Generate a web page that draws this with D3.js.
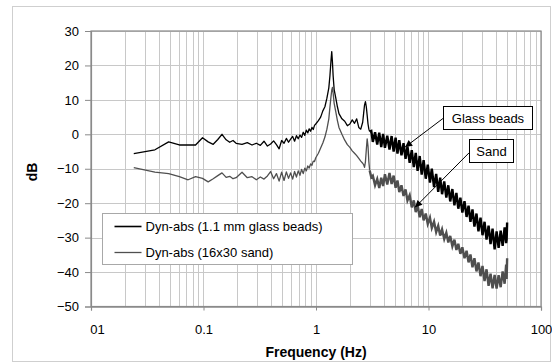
<!DOCTYPE html>
<html><head><meta charset="utf-8">
<script src="https://cdn.jsdelivr.net/npm/d3@7"></script>
<style>
body{margin:0;background:#fff;}
text{font-family:"Liberation Sans",Arial,Helvetica,sans-serif;}
</style></head>
<body><svg id="c" width="552" height="364"></svg>
<script>
// ---- data ----
const freq = [
 0.024,0.037,0.049,0.061,0.073,0.085,0.098,0.110,0.122,0.134,0.146,0.159,0.171,0.183,0.195,
 0.22,0.245,0.27,0.295,0.32,0.345,0.37,0.395,0.42,0.445,0.47,0.495,0.52,0.545,0.57,0.595,
 0.62,0.645,0.67,0.695,0.72,0.745,0.77,0.795,0.82,0.845,0.87,0.895,0.92,0.945,0.97,0.995,
 1.05,1.1,1.15,1.2,1.25,1.3,1.33,1.36,1.38,1.40,1.42,1.45,1.5,1.55,1.6,1.7,1.8,1.9,2.0,
 2.1,2.2,2.3,2.4,2.5,2.6,2.65,2.7,2.75,2.8,2.85,2.9,2.95,3.0,
 3.1,3.2,3.35,3.5,3.65,3.8,3.95,4.1,4.3,4.5,
 4.7,4.9,5.1,5.3,5.5,5.75,6.0,6.25,6.5,6.8,
 7.1,7.4,7.7,8.0,8.35,8.7,9.05,9.45,9.85,10.3,
 10.7,11.2,11.7,12.2,12.7,13.2,13.8,14.4,15.0,15.6,
 16.3,17.0,17.7,18.4,19.2,20.0,20.9,21.8,22.7,23.6,
 24.6,25.6,26.7,27.8,29.0,30.2,31.5,32.8,34.2,35.6,
 37.1,38.7,40.3,42.0,43.8,45.6,47.5,49.0,49.5,50.0
];
const beads = [
 -5.6,-4.5,-2.2,-3.1,-3.1,-3.1,-1.0,-2.2,-2.9,-1.5,0.0,-1.6,-2.3,-1.8,-2.6,
 -2.9,-2.4,-3.1,-2.6,-3.2,-2.0,-3.4,-2.8,-1.9,-3.0,-4.2,-1.8,-2.6,-1.2,-2.3,-1.4,
 -0.6,-2.0,-0.4,-1.3,-0.2,-0.9,0.6,-0.3,1.2,0.4,1.6,0.9,2.0,1.4,2.6,3.0,
 4.0,5.0,6.8,8.0,10.5,13.5,17.0,21.5,24.0,21.0,17.0,13.0,10.5,8.0,6.0,4.5,3.8,2.5,3.0,
 4.2,3.2,4.5,2.0,1.5,3.5,6.0,8.5,9.5,8.0,5.5,3.0,1.5,0.8,
 1.0,-2.2,0.6,-3.0,0.5,-3.7,0.1,-3.9,-0.4,-4.4,
 -0.5,-5.0,-1.0,-5.6,-1.7,-6.1,-2.6,-7.1,-3.5,-8.3,
 -4.6,-9.5,-5.4,-10.6,-6.3,-11.7,-7.5,-12.9,-8.8,-14.0,
 -10.0,-15.3,-11.5,-16.7,-12.6,-17.4,-13.7,-18.4,-14.8,-19.5,
 -15.9,-20.6,-17.0,-21.6,-18.4,-22.7,-19.4,-24.0,-20.7,-25.4,
 -21.8,-26.8,-23.0,-28.2,-24.2,-29.3,-25.4,-30.6,-26.5,-31.9,
 -27.4,-33.4,-28.2,-33.0,-28.0,-32.4,-27.0,-31.6,-30.5,-25.6
];
const sand = [
 -9.7,-11.0,-11.4,-12.3,-13.2,-12.3,-12.8,-13.8,-12.9,-12.0,-11.2,-12.5,-12.2,-12.9,-12.6,
 -11.0,-12.6,-12.3,-13.2,-12.4,-13.0,-12.1,-10.8,-12.9,-11.4,-13.6,-11.0,-13.4,-10.9,-12.8,-11.2,
 -13.0,-10.8,-12.4,-10.6,-11.9,-10.2,-11.4,-9.8,-10.6,-9.2,-9.8,-8.6,-9.0,-7.8,-7.9,-6.8,
 -5.5,-4.0,-2.5,-0.8,1.5,4.5,7.9,11.0,12.8,13.6,12.0,9.0,6.5,4.0,2.0,0.0,-1.7,-3.0,-3.8,
 -4.8,-5.5,-6.2,-7.0,-7.8,-8.4,-8.8,-9.6,-8.0,-4.5,-1.3,-3.5,-8.0,-10.5,
 -12.5,-12.0,-14.8,-13.0,-15.6,-12.6,-15.0,-11.6,-14.6,-11.2,
 -14.4,-12.0,-15.5,-13.4,-16.8,-14.8,-17.9,-16.0,-19.2,-17.7,
 -21.2,-19.2,-22.6,-20.5,-24.1,-21.7,-25.0,-23.0,-26.0,-24.2,
 -27.2,-25.4,-28.4,-26.6,-29.4,-27.6,-30.4,-28.6,-31.4,-29.5,
 -32.5,-30.6,-33.6,-31.8,-34.7,-32.8,-36.0,-33.8,-37.2,-34.9,
 -38.6,-36.0,-39.8,-37.2,-41.2,-38.2,-42.6,-39.2,-44.0,-40.5,
 -44.7,-40.8,-44.8,-40.9,-44.4,-39.8,-43.4,-37.8,-42.0,-36.0
];
const seriesNames = ["Dyn-abs (1.1 mm glass beads)", "Dyn-abs (16x30 sand)"];
const yTicks = [30,20,10,0,-10,-20,-30,-40,-50];
const xTicks = [0.01,0.1,1,10,100];
const xTickLabels = ["01","0.1","1","10","100"];
const annotLabels = ["Glass beads","Sand"];

// ---- layout / style ----
const svg = d3.select("#c");
const L=91, R=541, T=31, B=306.5;
const x = d3.scaleLog().domain([0.01,100]).range([L,R]);
const y = d3.scaleLinear().domain([-50,30]).range([B,T]);
const colors = ["#000000","#4f4f4f"];
const noisyFrom = 79; // index where the dense, noisy part of the spectra starts

svg.append("rect").attr("x",12.5).attr("y",6.5).attr("width",538).attr("height",355)
  .attr("fill","#fff").attr("stroke","#cfcfcf");

// grid
const g = svg.append("g");
g.selectAll(".vg").data(x.ticks()).join("line")
  .attr("x1",d=>Math.round(x(d))+0.5).attr("x2",d=>Math.round(x(d))+0.5)
  .attr("y1",T).attr("y2",B).attr("stroke","#c8c8c8").attr("stroke-width",1);
g.selectAll(".hg").data(yTicks).join("line")
  .attr("x1",L).attr("x2",R).attr("y1",d=>Math.round(y(d))+0.5).attr("y2",d=>Math.round(y(d))+0.5)
  .attr("stroke","#c8c8c8").attr("stroke-width",1);
// plot frame
svg.append("rect").attr("x",L).attr("y",T).attr("width",R-L).attr("height",B-T)
  .attr("fill","none").attr("stroke","#8a8a8a").attr("stroke-width",1.2);

// axes
const ya = svg.append("g").attr("transform",`translate(${L},0)`)
  .call(d3.axisLeft(y).tickValues(yTicks).tickSize(6).tickPadding(6).tickFormat(d3.format("d")));
const xa = svg.append("g").attr("transform",`translate(0,${B})`)
  .call(d3.axisBottom(x).tickValues(xTicks).tickSize(4).tickPadding(14)
    .tickFormat((d,i)=>xTickLabels[i]));
[ya,xa].forEach(a=>{
  a.select(".domain").attr("stroke","#8a8a8a").attr("stroke-width",1.2);
  a.selectAll(".tick line").attr("stroke","#8a8a8a");
  a.selectAll("text").attr("font-size",13).attr("fill","#000")
   .attr("font-family","'Liberation Sans',Arial,sans-serif");
});
xa.selectAll(".tick text").filter((d,i)=>i===0).attr("dx",6);

// series
const line = d3.line().x(i=>x(freq[i])).y((i,k,arr)=>0);
function drawSeries(vals, color){
  const idx = d3.range(vals.length);
  const ln = d3.line().x(i=>x(freq[i])).y(i=>y(vals[i]));
  svg.append("path").datum(idx.slice(0,noisyFrom+1)).attr("d",ln).attr("fill","none")
    .attr("stroke",color).attr("stroke-width",1.3).attr("stroke-linejoin","round");
  svg.append("path").datum(idx.slice(noisyFrom)).attr("d",ln).attr("fill","none")
    .attr("stroke",color).attr("stroke-width",2.4).attr("stroke-linejoin","miter");
}
drawSeries(sand, colors[1]);
drawSeries(beads, colors[0]);

// axis titles
svg.append("text").attr("x",(L+R)/2).attr("y",357).attr("text-anchor","middle")
  .attr("font-size",14).attr("font-weight","bold").text("Frequency (Hz)");
svg.append("text").attr("transform","translate(37,172) rotate(-90)").attr("text-anchor","middle")
  .attr("font-size",14).attr("font-weight","bold").text("dB");

// legend
const lg = svg.append("g").attr("transform","translate(102.5,213.5)");
lg.append("rect").attr("width",250).attr("height",51).attr("fill","#fff").attr("stroke","#a8a8a8");
seriesNames.forEach((n,i)=>{
  const yy = 13 + i*26;
  lg.append("line").attr("x1",12).attr("x2",39).attr("y1",yy).attr("y2",yy)
    .attr("stroke",colors[i]).attr("stroke-width",i===0?1.6:1.3);
  lg.append("text").attr("x",43).attr("y",yy+4.5).attr("font-size",13).text(n);
});

// annotations (box anchor / arrow start / arrow tip in data coordinates)
const annotPos = [
  {bx:13.45, by:8.2, w:89, h:23, sx:13.45, sy:4.6, tx:6.2, ty:-3.7},
  {bx:22.9, by:-1.4, w:44, h:23, sx:22.9, sy:-5.4, tx:7.6, ty:-21.2}
];
svg.append("defs").append("marker").attr("id","ah").attr("viewBox","0 0 10 10")
  .attr("refX",10).attr("refY",5).attr("markerWidth",9).attr("markerHeight",7)
  .attr("markerUnits","userSpaceOnUse").attr("orient","auto")
  .append("path").attr("d","M0,0L10,5L0,10z").attr("fill","#000");
annotLabels.forEach((lab,i)=>{
  const p = annotPos[i];
  svg.append("line").attr("x1",x(p.sx)).attr("y1",y(p.sy)).attr("x2",x(p.tx)).attr("y2",y(p.ty))
    .attr("stroke","#000").attr("stroke-width",1).attr("marker-end","url(#ah)");
  const bx = Math.round(x(p.bx))+0.5, by = Math.round(y(p.by))+0.5;
  svg.append("rect").attr("x",bx).attr("y",by).attr("width",p.w).attr("height",p.h)
    .attr("fill","#fff").attr("stroke","#000");
  svg.append("text").attr("x",bx+p.w/2).attr("y",by+p.h/2+4.5).attr("text-anchor","middle")
    .attr("font-size",13).text(lab);
});
</script></body></html>
